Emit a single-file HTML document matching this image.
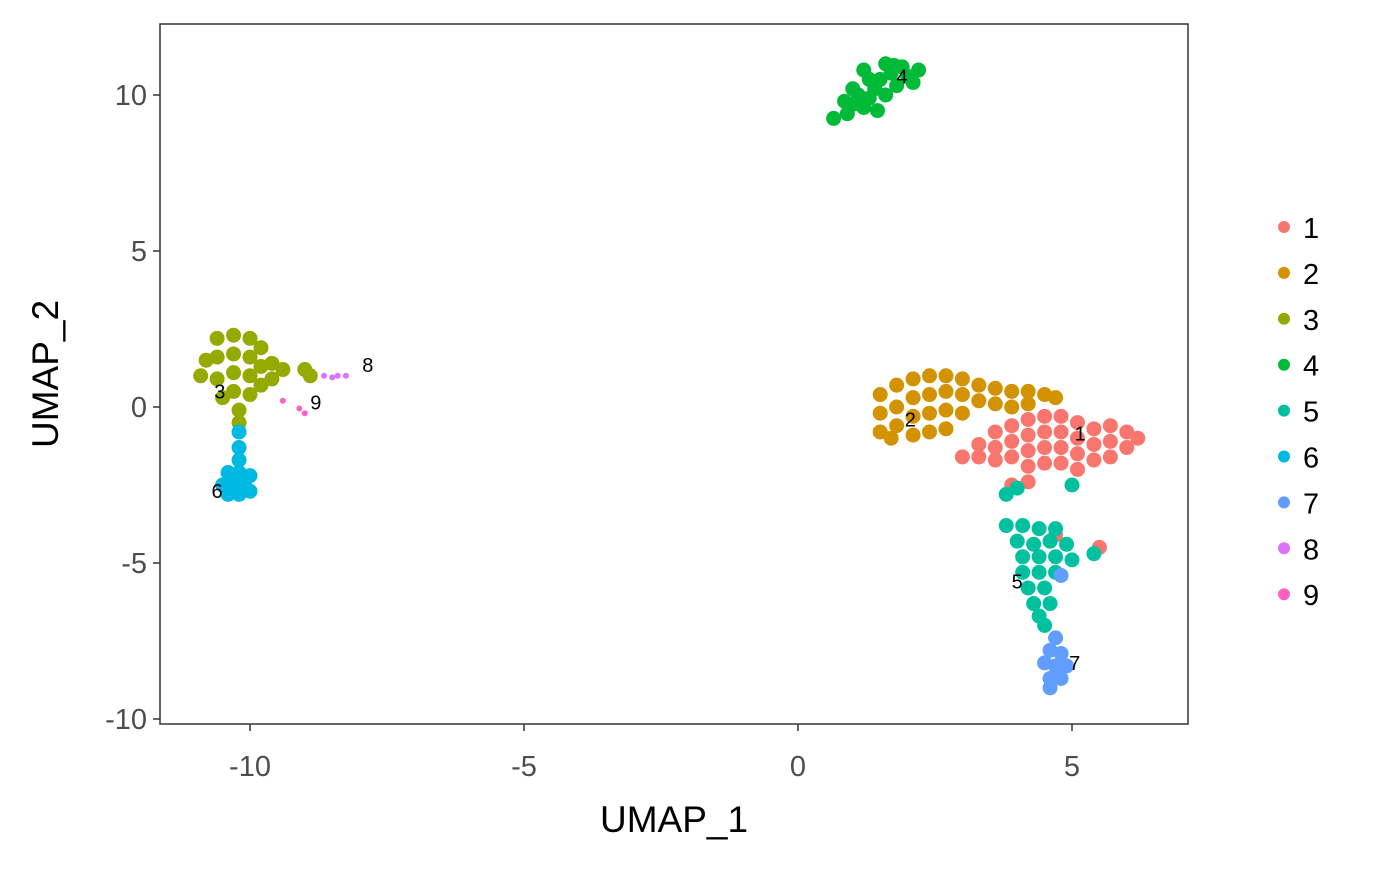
<!DOCTYPE html>
<html><head><meta charset="utf-8"><style>
body{margin:0;background:#fff;}
svg text{font-family:"Liberation Sans",sans-serif;}
</style></head><body>
<svg id="chart" width="1400" height="865" xmlns="http://www.w3.org/2000/svg">
<rect x="160" y="24" width="1028" height="700" fill="#fff" stroke="#333" stroke-width="1.5"/>
<g id="pts"></g>
<g id="axes"></g>
<text x="674" y="832" font-size="37" text-anchor="middle">UMAP_1</text>
<text transform="translate(58,374) rotate(-90)" font-size="37" text-anchor="middle">UMAP_2</text>
<g id="legend"></g>
</svg>
<script>
const clusterNames=["1","2","3","4","5","6","7","8","9"];
const clusterColors=["#F8766D","#D39200","#93AA00","#00BA38","#00C19F","#00B9E3","#619CFF","#DB72FB","#FF61C3"];
const xTicks=[-10,-5,0,5];
const yTicks=[-10,-5,0,5,10];
const c1=[[3.0,-1.6],[3.3,-1.2],[3.3,-1.6],[3.6,-0.8],[3.6,-1.3],[3.6,-1.7],[3.9,-0.6],[3.9,-1.1],[3.9,-1.6],[4.2,-0.4],[4.2,-0.9],[4.2,-1.4],[4.2,-1.9],[4.5,-0.3],[4.5,-0.8],[4.5,-1.3],[4.5,-1.8],[4.8,-0.3],[4.8,-0.8],[4.8,-1.3],[4.8,-1.8],[5.1,-0.5],[5.1,-1.0],[5.1,-1.5],[5.1,-2.0],[5.4,-0.7],[5.4,-1.2],[5.4,-1.7],[5.7,-0.6],[5.7,-1.1],[5.7,-1.6],[6.0,-0.8],[6.0,-1.3],[6.2,-1.0],[4.7,-4.1],[5.5,-4.5],[3.9,-2.5],[4.2,-2.4]];
const c2=[[1.5,0.4],[1.5,-0.2],[1.5,-0.8],[1.8,0.7],[1.8,0],[1.8,-0.6],[2.1,0.9],[2.1,0.3],[2.1,-0.3],[2.1,-0.9],[2.4,1.0],[2.4,0.4],[2.4,-0.2],[2.4,-0.8],[2.7,1.0],[2.7,0.5],[2.7,-0.1],[2.7,-0.7],[3.0,0.9],[3.0,0.4],[3.0,-0.2],[3.3,0.7],[3.3,0.2],[3.6,0.6],[3.6,0.1],[3.9,0.5],[3.9,0.0],[4.2,0.5],[4.2,0.1],[4.5,0.4],[4.7,0.3],[1.7,-1.0]];
const c3=[[-10.9,1.0],[-10.8,1.5],[-10.6,2.2],[-10.6,1.6],[-10.6,0.9],[-10.5,0.3],[-10.3,2.3],[-10.3,1.7],[-10.3,1.1],[-10.3,0.5],[-10.2,-0.1],[-10.2,-0.5],[-10.0,2.2],[-10.0,1.6],[-10.0,1.0],[-10.0,0.4],[-9.8,1.9],[-9.8,1.3],[-9.8,0.7],[-9.6,1.4],[-9.6,0.9],[-9.4,1.2],[-9.0,1.2],[-8.9,1.0]];
const c4=[[0.65,9.25],[0.9,9.4],[1.0,9.7],[1.2,9.6],[1.3,9.9],[1.1,10.0],[1.4,10.2],[1.6,10.0],[1.5,10.5],[1.8,10.3],[1.7,10.7],[2.0,10.6],[1.9,10.9],[2.1,10.4],[1.3,10.5],[1.2,10.8],[1.6,11.0],[1.0,10.2],[0.85,9.8],[2.2,10.8],[1.45,9.5],[1.75,10.95]];
const c5=[[3.8,-3.8],[4.1,-3.8],[4.4,-3.9],[4.7,-3.9],[4.0,-4.3],[4.3,-4.4],[4.6,-4.3],[4.9,-4.4],[4.1,-4.8],[4.4,-4.8],[4.7,-4.8],[5.0,-4.9],[4.1,-5.3],[4.4,-5.3],[4.7,-5.3],[4.2,-5.8],[4.5,-5.8],[4.3,-6.3],[4.6,-6.3],[4.4,-6.7],[4.5,-7.0],[3.8,-2.8],[4.0,-2.6],[5.4,-4.7],[5.0,-2.5]];
const c6=[[-10.2,-0.8],[-10.2,-1.3],[-10.2,-1.7],[-10.4,-2.1],[-10.2,-2.1],[-10.0,-2.2],[-10.5,-2.5],[-10.3,-2.5],[-10.1,-2.5],[-10.4,-2.8],[-10.2,-2.8],[-10.0,-2.7]];
const c7=[[4.7,-7.4],[4.6,-7.8],[4.8,-7.9],[4.5,-8.2],[4.7,-8.3],[4.9,-8.3],[4.6,-8.7],[4.8,-8.7],[4.6,-9.0],[4.8,-5.4]];
const c8=[[-8.65,1.0],[-8.5,0.95],[-8.4,1.0],[-8.25,1.0]];
const c9=[[-9.4,0.2],[-9.1,-0.05],[-9.0,-0.2]];
const clusterPoints=[c1,c2,c3,c4,c5,c6,c7,c8,c9];
const labelPos=[[5.15,-0.85],[2.05,-0.4],[-10.55,0.5],[1.9,10.6],[4.0,-5.6],[-10.6,-2.7],[5.05,-8.2],[-7.85,1.35],[-8.8,0.15]];

const NS="http://www.w3.org/2000/svg";
const sx=v=>798+v*54.8;
const sy=v=>407-v*31.2;
const pts=document.getElementById('pts');
const axes=document.getElementById('axes');
const leg=document.getElementById('legend');
function mk(t,a,p){const e=document.createElementNS(NS,t);for(const k in a)e.setAttribute(k,a[k]);p.appendChild(e);return e;}
clusterPoints.forEach((arr,ci)=>{
  const dense=arr.length>8;
  arr.forEach(p=>{
    const c=mk('circle',{cx:sx(p[0]),cy:sy(p[1]),r:dense?7.5:3,fill:clusterColors[ci]},pts);
    
    
  });
});
labelPos.forEach((p,i)=>{
  const t=mk('text',{x:sx(p[0]),y:sy(p[1])+7,'font-size':20,'text-anchor':'middle',fill:'#000'},pts);
  t.textContent=clusterNames[i];
  
  
});
xTicks.forEach(v=>{
  const l=mk('line',{x1:sx(v),x2:sx(v),y1:724,y2:731,stroke:'#333','stroke-width':1.5},axes);
  
  
  const t=mk('text',{x:sx(v),y:776,'font-size':29,'text-anchor':'middle',fill:'#4d4d4d'},axes);
  t.textContent=v;
  
  
});
yTicks.forEach(v=>{
  const l=mk('line',{x1:153,x2:160,y1:sy(v),y2:sy(v),stroke:'#333','stroke-width':1.5},axes);
  
  
  const t=mk('text',{x:147,y:sy(v)+10,'font-size':29,'text-anchor':'end',fill:'#4d4d4d'},axes);
  t.textContent=v;
  
  
});
clusterNames.forEach((n,i)=>{
  const y=227+i*45.9;
  const c=mk('circle',{cx:1284,cy:y,r:6,fill:clusterColors[i]},leg);
  
  
  const t=mk('text',{x:1303,y:y+11,'font-size':29,fill:'#000'},leg);
  t.textContent=n;
  
  
});
</script>
</body></html>
